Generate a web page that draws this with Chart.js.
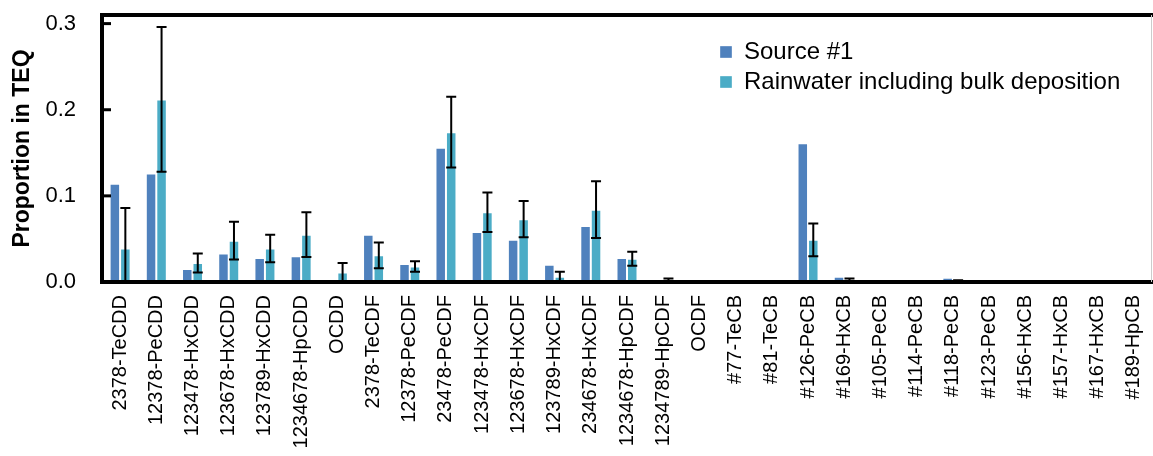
<!DOCTYPE html>
<html lang="en">
<head>
    <meta charset="UTF-8">
    <title>Proportion in TEQ</title>
    <script src="https://cdn.jsdelivr.net/npm/chart.js"></script>
    <style>
        html, body { margin: 0; padding: 0; background: #fff; }
        #teqChart { display: block; }
    </style>
</head>
<body>
    <canvas id="teqChart" width="1153" height="456"></canvas>

    <script>
        // Congeners on the x axis
        const congeners = ['2378-TeCDD', '12378-PeCDD', '123478-HxCDD', '123678-HxCDD', '123789-HxCDD',
            '1234678-HpCDD', 'OCDD', '2378-TeCDF', '12378-PeCDF', '23478-PeCDF', '123478-HxCDF',
            '123678-HxCDF', '123789-HxCDF', '234678-HxCDF', '1234678-HpCDF', '1234789-HpCDF', 'OCDF',
            '#77-TeCB', '#81-TeCB', '#126-PeCB', '#169-HxCB', '#105-PeCB', '#114-PeCB', '#118-PeCB',
            '#123-PeCB', '#156-HxCB', '#157-HxCB', '#167-HxCB', '#189-HpCB'];

        const source1 = [0.114, 0.126, 0.015, 0.033, 0.028, 0.030, 0.001, 0.055, 0.021, 0.156, 0.058,
            0.049, 0.020, 0.065, 0.028, 0.001, 0.0005, 0.001, 0.0002, 0.161, 0.006, 0.0005, 0.0002,
            0.005, 0.0003, 0.0005, 0.0002, 0.0002, 0.0001];

        const rainwater = [0.039, 0.212, 0.022, 0.048, 0.039, 0.055, 0.011, 0.031, 0.018, 0.174, 0.081,
            0.073, 0.006, 0.084, 0.027, 0.001, 0.0003, 0.0005, 0.0001, 0.049, 0.002, 0.0003, 0.0001,
            0.001, 0.0001, 0.0002, 0.0001, 0.0001, 0.0001];

        // +/- error for the rainwater series
        const rainwaterErr = [0.047, 0.084, 0.011, 0.022, 0.016, 0.026, 0.011, 0.015, 0.006, 0.041, 0.023,
            0.021, 0.006, 0.033, 0.008, 0.003, 0, 0.0008, 0, 0.019, 0.002, 0, 0, 0.001, 0, 0, 0, 0, 0];

        const yTicks = [0.1, 0.2, 0.3];

        const FONT = "'Liberation Sans', Arial, sans-serif";

        // Frame, inner ticks and error bars
        const extrasPlugin = {
            id: 'extras',
            afterLayout(chart) {
                // move the legend into the upper right of the plot
                const lg = chart.legend;
                const w = lg.right - lg.left;
                const h = lg.bottom - lg.top;
                lg.left = 714;
                lg.top = 34;
                lg.right = lg.left + w;
                lg.bottom = lg.top + h;
            },
            afterDatasetsDraw(chart) {
                const ctx = chart.ctx;
                const area = chart.chartArea;
                const y = chart.scales.y;
                const meta = chart.getDatasetMeta(1);

                ctx.save();
                ctx.beginPath();
                ctx.rect(area.left, area.top, area.right - area.left, area.bottom - area.top);
                ctx.clip();
                ctx.strokeStyle = '#000';
                ctx.lineWidth = 2;
                meta.data.forEach((bar, i) => {
                    const err = rainwaterErr[i];
                    if (!err) return;
                    const top = y.getPixelForValue(rainwater[i] + err);
                    const bot = y.getPixelForValue(rainwater[i] - err);
                    ctx.beginPath();
                    ctx.moveTo(bar.x, top);
                    ctx.lineTo(bar.x, bot);
                    ctx.moveTo(bar.x - 5, top);
                    ctx.lineTo(bar.x + 5, top);
                    ctx.moveTo(bar.x - 5, bot);
                    ctx.lineTo(bar.x + 5, bot);
                    ctx.stroke();
                });
                ctx.restore();

                ctx.save();
                ctx.strokeStyle = '#000';
                ctx.lineWidth = 4;
                ctx.beginPath();
                ctx.moveTo(area.right + 2, area.top);
                ctx.lineTo(area.left, area.top);
                ctx.lineTo(area.left, area.bottom);
                ctx.lineTo(area.right + 2, area.bottom);
                ctx.stroke();

                ctx.lineWidth = 1;
                ctx.strokeStyle = '#ccc';
                ctx.beginPath();
                ctx.moveTo(area.right - 0.5, area.top);
                ctx.lineTo(area.right - 0.5, area.bottom);
                ctx.stroke();

                // inward tick marks on the value axis
                ctx.strokeStyle = '#000';
                ctx.lineWidth = 3;
                yTicks.forEach(v => {
                    const py = y.getPixelForValue(v);
                    ctx.beginPath();
                    ctx.moveTo(area.left, py);
                    ctx.lineTo(area.left + 9, py);
                    ctx.stroke();
                });
                ctx.restore();
            }
        };

        new Chart(document.getElementById('teqChart'), {
            type: 'bar',
            data: {
                labels: congeners,
                datasets: [{
                    label: 'Source #1',
                    data: source1,
                    backgroundColor: '#4F81BD',
                    borderColor: 'rgba(255,255,255,0.35)',
                    borderWidth: 1,
                    barPercentage: 1.0,
                    categoryPercentage: 0.58
                }, {
                    label: 'Rainwater including bulk deposition',
                    data: rainwater,
                    backgroundColor: '#4BACC6',
                    borderColor: 'rgba(255,255,255,0.35)',
                    borderWidth: 1,
                    barPercentage: 1.0,
                    categoryPercentage: 0.58
                }]
            },
            options: {
                responsive: false,
                animation: false,
                layout: { padding: { top: 15, right: 1, left: 0, bottom: 0 } },
                plugins: {
                    tooltip: { enabled: false },
                    legend: {
                        position: 'chartArea',
                        align: 'start',
                        labels: {
                            boxWidth: 12,
                            boxHeight: 12,
                            padding: 6,
                            color: '#000',
                            font: { family: FONT, size: 24 }
                        }
                    }
                },
                scales: {
                    x: {
                        grid: { display: false, drawTicks: false },
                        border: { display: false },
                        afterFit(scale) {
                            scale.height = 174;
                            scale.paddingLeft = 0;
                            scale.paddingRight = 0;
                        },
                        ticks: {
                            autoSkip: false,
                            minRotation: 90,
                            maxRotation: 90,
                            padding: 13,
                            color: '#000',
                            font: { family: FONT, size: 20 }
                        }
                    },
                    y: {
                        min: 0,
                        max: 0.31,
                        grid: { display: false, drawTicks: false },
                        border: { display: false },
                        afterFit(scale) {
                            scale.width = 102;
                            scale.paddingTop = 0;
                            scale.paddingBottom = 0;
                        },
                        ticks: {
                            stepSize: 0.1,
                            includeBounds: false,
                            padding: 26,
                            color: '#000',
                            font: { family: FONT, size: 22 },
                            callback: v => v.toFixed(1)
                        },
                        title: {
                            display: true,
                            text: 'Proportion in TEQ',
                            color: '#000',
                            padding: { top: 9, bottom: 0 },
                            font: { family: FONT, size: 23, weight: 'bold' }
                        }
                    }
                }
            },
            plugins: [extrasPlugin]
        });
    </script>
</body>
</html>
